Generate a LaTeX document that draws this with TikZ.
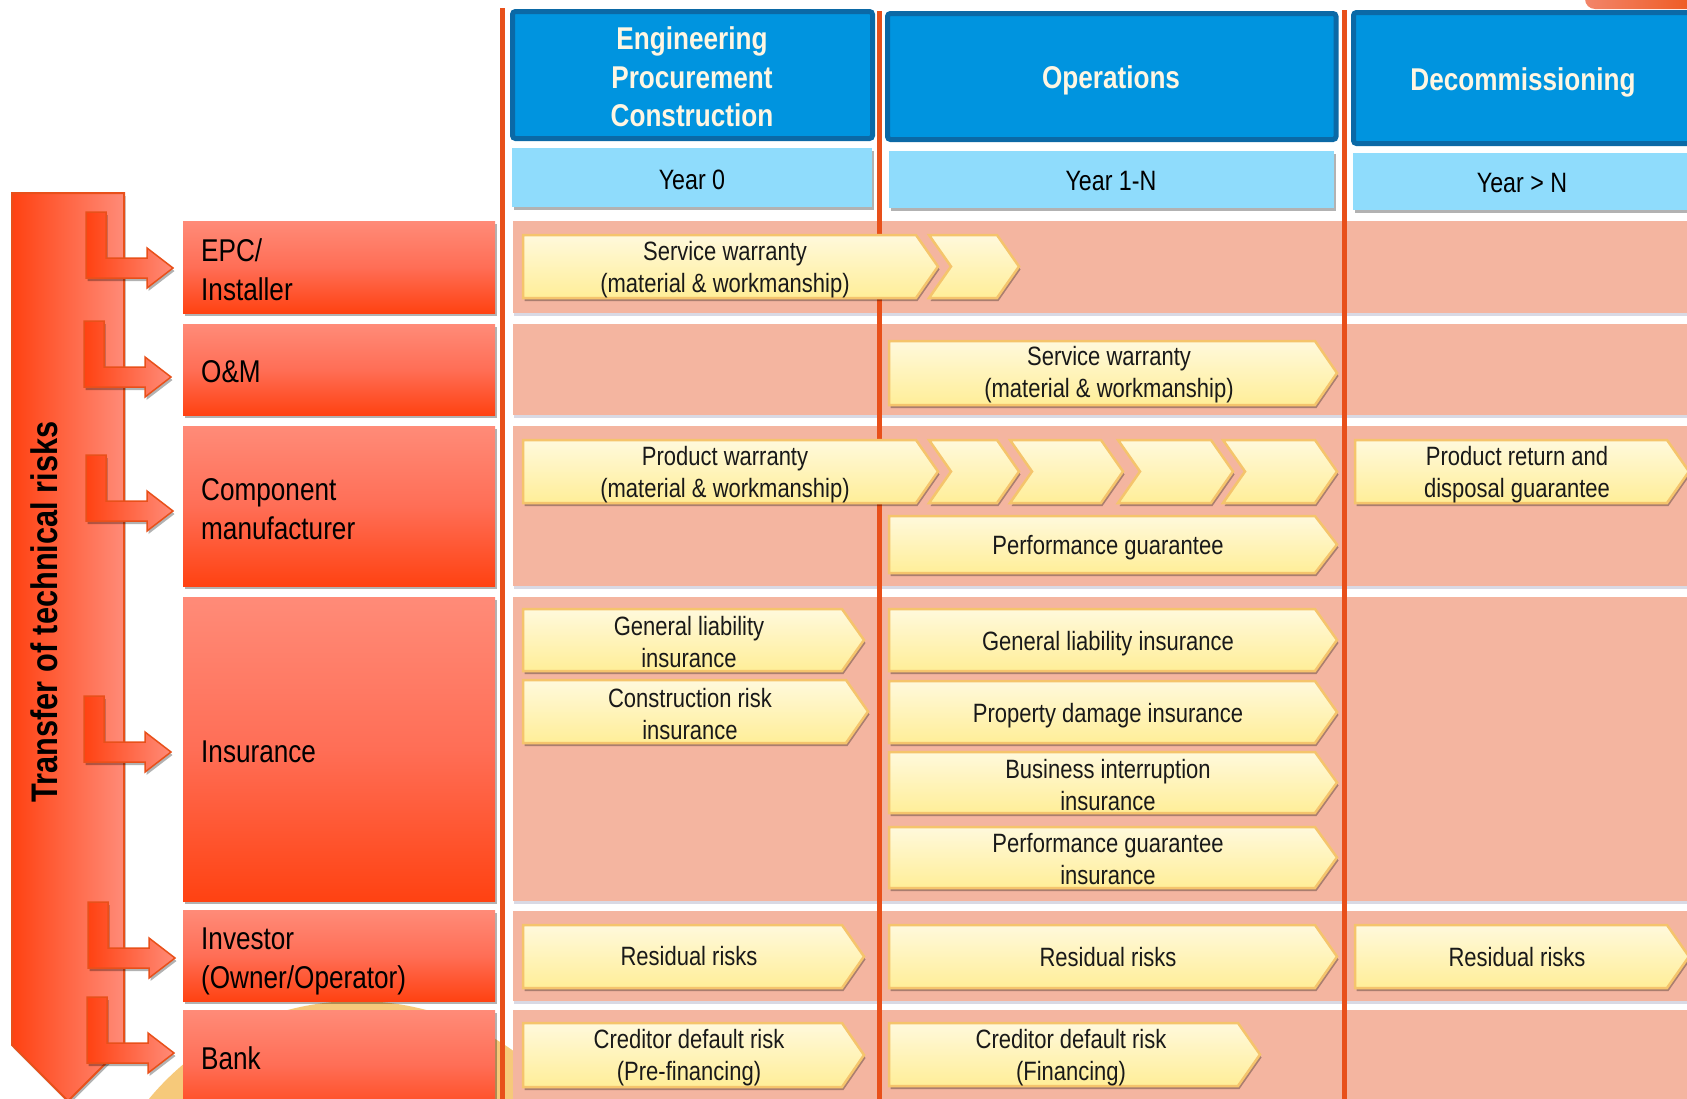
\documentclass[tikz,border=0pt]{standalone}
\usepackage{fontspec}
\setmainfont{Liberation Sans}[FakeStretch=0.83]
\usetikzlibrary{shadows}
\definecolor{hdrblue}{HTML}{0094DF}
\definecolor{hdrborder}{HTML}{0B69A6}
\definecolor{yearblue}{HTML}{8FDCFC}
\definecolor{pinkrow}{HTML}{F4B5A0}
\definecolor{redtop}{HTML}{FF8B78}
\definecolor{redmid}{HTML}{FF6E56}
\definecolor{redbot}{HTML}{FF4212}
\definecolor{lineor}{HTML}{E8501A}
\definecolor{ytop}{HTML}{FFF9DC}
\definecolor{ybot}{HTML}{FFEE98}
\definecolor{yborder}{HTML}{F5C46C}
\definecolor{cream}{HTML}{FFF6E2}
\definecolor{circyel}{HTML}{F6C97A}
\definecolor{blobl}{HTML}{F2856A}
\definecolor{blobr}{HTML}{EE5010}
\tikzset{
  shd/.style={drop shadow={shadow xshift=1.5pt, shadow yshift=-3pt, opacity=.3, fill=black}},
  lshd/.style={drop shadow={shadow xshift=1pt, shadow yshift=-3pt, opacity=.15, fill=black!70!blue}},
  lbl/.style={anchor=west, align=left, inner sep=0pt, font=\fontsize{31.5}{39}\selectfont},
  ytxt/.style={align=center, inner sep=0pt, text=black!90, font=\fontsize{26.5}{32}\selectfont},
  hdr/.style={fill=hdrblue, draw=hdrborder, line width=5pt, rounded corners=3pt},
  hdrtxt/.style={align=center, inner sep=0pt, text=cream, font=\bfseries\fontsize{31.5}{38.5}\selectfont},
  yearbox/.style={fill=yearblue, shd},
  yeartxt/.style={inner sep=0pt, font=\fontsize{28}{34}\selectfont},
  redbox/.style={top color=redtop, bottom color=redbot, middle color=redmid, shd},
  pinkbox/.style={fill=pinkrow, lshd},
  vline/.style={draw=lineor, line width=5pt},
  yshape/.style={top color=ytop, bottom color=ybot, draw=yborder, line width=2.5pt, shd},
  larrow/.style={left color=redbot, right color=redtop, draw=lineor, line width=1.5pt, shd},
}
\newcommand\yarr[4]{\path[yshape] (#1,#2) -- ({#3-22},#2) -- (#3,{(#2+#4)/2}) -- ({#3-22},#4) -- (#1,#4) -- cycle;}
\newcommand\ychev[4]{\path[yshape] (#1,#2) -- ({#3-22},#2) -- (#3,{(#2+#4)/2}) -- ({#3-22},#4) -- (#1,#4) -- ({#1+22},{(#2+#4)/2}) -- cycle;}
\newcommand\larr[2]{\path[larrow] (#1,{#2-56}) -- ({#1+20},{#2-56}) -- ({#1+20},{#2-10}) -- ({#1+61},{#2-10}) -- ({#1+61},{#2-20}) -- ({#1+87},#2) -- ({#1+61},{#2+20}) -- ({#1+61},{#2+10}) -- (#1,{#2+10}) -- cycle;}
\begin{document}
\begin{tikzpicture}[x=1pt,y=-1pt]
\useasboundingbox (0,0) rectangle (1687,1098);
\clip (0,0) rectangle (1687,1098);
\fill[white] (0,0) rectangle (1687,1098);
% decorative background
\fill[circyel] (357,1271) circle (270);
\path[left color=blobl, right color=blobr, rounded corners=10pt] (1585,-30) rectangle (1720,9);
% big transfer arrow
\path[left color=redbot, right color=redtop, draw=lineor, line width=2pt, shd]
  (12,193) -- (124,193) -- (124,1045) -- (68,1101) -- (12,1045) -- cycle;
\node[rotate=90, inner sep=0pt, font=\bfseries\fontsize{37}{44}\selectfont] (title) at (44,612) {Transfer of technical risks};
% left red boxes
\path[redbox] (183,221) rectangle (495,313);
\path[redbox] (183,324) rectangle (495,415);
\path[redbox] (183,426) rectangle (495,586);
\path[redbox] (183,597) rectangle (495,901);
\path[redbox] (183,910) rectangle (495,1001);
\path[redbox] (183,1010) rectangle (495,1120);
\node[lbl] (epc) at (201,270) {EPC/\\Installer};
\node[lbl] (om) at (201,372) {O\&M};
\node[lbl] (comp) at (201,509) {Component\\manufacturer};
\node[lbl] (ins) at (201,752) {Insurance};
\node[lbl] (inv) at (201,961) {Investor\\(Owner/Operator)};
\node[lbl] (bank) at (201,1058) {Bank};
% L arrows
\larr{86}{268}
\larr{84}{377}
\larr{86}{511}
\larr{84}{752}
\larr{88}{958}
\larr{87}{1053}
% pink rows
\path[pinkbox] (513,221) rectangle (1710,313);
\path[pinkbox] (513,324) rectangle (1710,415);
\path[pinkbox] (513,426) rectangle (1710,586);
\path[pinkbox] (513,597) rectangle (1710,901);
\path[pinkbox] (513,911) rectangle (1710,1001);
\path[pinkbox] (513,1010) rectangle (1710,1120);
% vertical lines
\draw[vline] (502.5,8) -- (502.5,1100);
\draw[vline] (879.5,11) -- (879.5,1100);
\draw[vline] (1344.5,10) -- (1344.5,1100);
% headers
\path[hdr] (512.5,11.5) rectangle (872.5,138.5);
\path[hdr] (887.5,13.5) rectangle (1336,139.5);
\path[hdr] (1353.5,12.5) rectangle (1710,143.5);
\node[hdrtxt] (h1) at (692,77) {Engineering\\Procurement\\Construction};
\node[hdrtxt] (h2) at (1111,80) {Operations};
\node[hdrtxt] (h3) at (1523,82) {Decommissioning};
\path[yearbox] (512,148) rectangle (872,207);
\path[yearbox] (889,151) rectangle (1334,208);
\path[yearbox] (1353,153) rectangle (1710,210);
\node[yeartxt] (y1) at (692,180) {Year 0};
\node[yeartxt] (y2) at (1111,181) {Year 1-N};
\node[yeartxt] (y3) at (1522,183) {Year > N};
% row 1
\yarr{523}{235}{938}{298}
\ychev{929}{235}{1019}{298}
\node[ytxt] (a1) at (725,270) {Service warranty\\(material \& workmanship)};
% row 2
\yarr{889}{341}{1337}{405}
\node[ytxt] (a2) at (1109,375) {Service warranty\\(material \& workmanship)};
% row 3
\yarr{523}{440}{938}{503}
\ychev{929}{440}{1019}{503}
\ychev{1010}{440}{1123}{503}
\ychev{1118}{440}{1233}{503}
\ychev{1223}{440}{1337}{503}
\node[ytxt] (a3) at (725,475) {Product warranty\\(material \& workmanship)};
\yarr{1355}{440}{1689}{503}
\node[ytxt] (a4) at (1517,475) {Product return and\\disposal guarantee};
\yarr{889}{516}{1337}{573}
\node[ytxt] (a5) at (1108,548) {Performance guarantee};
% row 4
\yarr{523}{609}{864}{671}
\node[ytxt] (a6) at (689,642) {General liability\\insurance};
\yarr{523}{680}{868}{743}
\node[ytxt] (a7) at (690,714) {Construction risk\\insurance};
\yarr{889}{609}{1337}{671}
\node[ytxt] (a8) at (1108,644) {General liability insurance};
\yarr{889}{681}{1337}{743}
\node[ytxt] (a9) at (1108,716) {Property damage insurance};
\yarr{889}{752}{1337}{813}
\node[ytxt] (a10) at (1108,785) {Business interruption\\insurance};
\yarr{889}{827}{1337}{888}
\node[ytxt] (a11) at (1108,859) {Performance guarantee\\insurance};
% row 5
\yarr{523}{925}{864}{988}
\node[ytxt] (a12) at (689,956) {Residual risks};
\yarr{889}{925}{1337}{988}
\node[ytxt] (a13) at (1108,957) {Residual risks};
\yarr{1355}{925}{1689}{988}
\node[ytxt] (a14) at (1517,957) {Residual risks};
% row 6
\yarr{523}{1023}{864}{1087}
\node[ytxt] (a15) at (689,1058) {Creditor default risk\\(Pre-financing)};
\yarr{889}{1023}{1260}{1086}
\node[ytxt] (a16) at (1071,1058) {Creditor default risk\\(Financing)};
\end{tikzpicture}
\end{document}
